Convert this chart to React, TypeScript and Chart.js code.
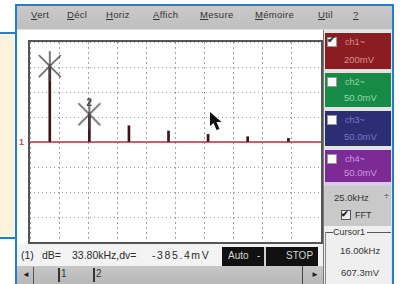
import React, { useEffect, useRef } from 'react';
import { Chart, registerables } from 'chart.js';

Chart.register(...registerables);

// ---- data ----
const harmonicFreqKHz = [17, 51, 85, 119, 153, 187, 222];
const harmonicAmpMV = [607, 222, 130, 88, 61, 42, 29];
const cursorFreqKHz = [17, 51];
const cursorAmpMV = [607.3, 221.9];
const cursorLabels = ['', '2'];
const freqSpanKHz = [0, 250];
const freqPerDivKHz = 25;
const voltSpanMV = [-800, 800];
const mvPerDiv = 200;

const menuLabels = ['Vert', 'Décl', 'Horiz', 'Affich', 'Mesure', 'Mémoire', 'Util', '?'];
const channelNames = ['ch1~', 'ch2~', 'ch3~', 'ch4~'];
const channelScales = ['200mV', '50.0mV', '50.0mV', '50.0mV'];
const statusParts = ['(1)', 'dB=', '33.80kHz,dv=', '-385.4mV'];
const spanLabel = '25.0kHz';
const cursorTitle = 'Cursor1';
const cursorReadout = ['16.00kHz', '607.3mV'];

// ---- layout (styling only) ----
const menuLeft = [31, 67, 106, 153, 200, 255, 318, 353];
const statusLeft = [21, 42, 72, 152];
const statusSpacing = [0, 0, 0, 1.6];
const chBoxes = [
  { top: 33, h: 36, bg: '#8b1c22', fg: '#dc9090' },
  { top: 73, h: 34, bg: '#188a48', fg: '#8fdcaa' },
  { top: 111, h: 35, bg: '#2c2e74', fg: '#7878c8' },
  { top: 150, h: 32, bg: '#7c2a94', fg: '#cf98e4' },
];
const BLUE = '#1f7fd4';
const FONT = '"Liberation Sans", Arial, sans-serif';

const abs = (l: number, t: number, w?: number, h?: number, extra: any = {}) => ({
  position: 'absolute' as const, left: l, top: t, width: w, height: h, ...extra,
});

export default function App() {
  const ref = useRef<HTMLCanvasElement>(null);

  useEffect(() => {
    const mk = document.createElement('canvas');
    mk.width = 26;
    mk.height = 32;
    const g = mk.getContext('2d')!;
    g.strokeStyle = '#4c4c4c';
    g.lineWidth = 1.5;
    g.beginPath();
    g.moveTo(13, 1); g.lineTo(13, 31);
    g.moveTo(2, 5); g.lineTo(24, 27);
    g.moveTo(24, 5); g.lineTo(2, 27);
    g.stroke();

    const labelPlugin = {
      id: 'cursorLabels',
      afterDatasetsDraw(chart: any) {
        const meta = chart.getDatasetMeta(2);
        const ctx = chart.ctx;
        ctx.save();
        ctx.font = 'bold 10px ' + FONT;
        ctx.fillStyle = '#444';
        ctx.textAlign = 'center';
        ctx.textBaseline = 'middle';
        meta.data.forEach((p: any, i: number) => {
          if (cursorLabels[i]) ctx.fillText(cursorLabels[i], p.x, p.y - 11);
        });
        ctx.restore();
      },
    };

    const chart = new Chart(ref.current!, {
      type: 'scatter',
      data: {
        datasets: [
          {
            type: 'line',
            data: freqSpanKHz.map((x) => ({ x, y: 0 })),
            borderColor: '#b23545',
            borderWidth: 1.6,
            pointRadius: 0,
            order: 3,
          } as any,
          {
            type: 'bar',
            data: harmonicFreqKHz.map((x, i) => ({ x, y: harmonicAmpMV[i] })),
            backgroundColor: '#3e1216',
            barThickness: 2,
            order: 2,
          } as any,
          {
            type: 'scatter',
            data: cursorFreqKHz.map((x, i) => ({ x, y: cursorAmpMV[i] })),
            pointStyle: mk,
            pointRadius: 12,
            order: 1,
          } as any,
        ],
      },
      options: {
        animation: false,
        responsive: false,
        maintainAspectRatio: false,
        events: [],
        layout: { padding: 0, autoPadding: false },
        plugins: { legend: { display: false }, tooltip: { enabled: false } },
        scales: {
          x: {
            type: 'linear',
            min: freqSpanKHz[0],
            max: freqSpanKHz[1],
            offset: false,
            ticks: { display: false, stepSize: freqPerDivKHz },
            grid: { color: '#a0a0a0', drawTicks: false, offset: false, lineWidth: 1 },
            border: { display: false, dash: [2, 3] },
          },
          y: {
            type: 'linear',
            min: voltSpanMV[0],
            max: voltSpanMV[1],
            ticks: { display: false, stepSize: mvPerDiv },
            grid: { color: '#a0a0a0', drawTicks: false, lineWidth: 1 },
            border: { display: false, dash: [1, 3] },
          },
        },
      } as any,
      plugins: [labelPlugin],
    });
    return () => chart.destroy();
  }, []);

  const txt = (extra: any = {}) => ({ fontFamily: FONT, fontSize: 10, color: '#2c2c2c', whiteSpace: 'nowrap', lineHeight: '12px', ...extra });

  return (
    <div style={{ position: 'fixed', left: 0, top: 0, width: 400, height: 284, overflow: 'hidden', background: '#fff', filter: 'blur(0.35px)' }}>
      {/* left cream panel */}
      <div style={abs(0, 32, 17, 207, { background: '#fdf3dc', borderTop: `2px solid ${BLUE}`, borderBottom: `2px solid ${BLUE}`, boxSizing: 'border-box' })} />

      {/* menu bar */}
      <div style={abs(17, 6, 375, 23, { background: 'linear-gradient(#c9c9c9, #bfbfbf)' })} />
      {menuLabels.map((m, i) => (
        <div key={m} style={abs(menuLeft[i], 9, undefined, 14, txt({ fontSize: 9.5, color: '#333', letterSpacing: 0.3 }))}>
          <u>{m.slice(0, 1)}</u>{m.slice(1)}
        </div>
      ))}
      <div style={abs(17, 29, 375, 1, { background: '#e0e0e0' })} />

      {/* plot frame + chart */}
      <div style={abs(28, 40, 295, 204, { border: '2px solid #555', boxSizing: 'border-box', background: '#fff' })}>
        <canvas ref={ref} width={291} height={200} style={{ display: 'block', width: 291, height: 200 }} />
      </div>
      {/* channel 1 ground marker */}
      <div style={abs(19, 137, 7, 10, txt({ fontSize: 9, fontWeight: 'bold', color: '#d0485a', lineHeight: '10px' }))}>1</div>

      {/* mouse pointer */}
      <svg style={abs(209, 111)} width="16" height="22">
        <polygon points="1,1 1,15 4.5,12 7.5,19 10.5,18 7.5,11 12.5,11" fill="#111" />
      </svg>

      {/* right panel */}
      <div style={abs(323, 30, 69, 254, { background: '#e4e4e4', borderLeft: '1px solid #777', boxSizing: 'border-box' })} />
      {chBoxes.map((b, i) => (
        <React.Fragment key={i}>
          <div style={abs(325, b.top, 66, b.h, { background: b.bg })} />
          <div style={abs(327, b.top + 4, 10, 10, { background: '#fafafa', border: '1px solid #999', boxSizing: 'border-box' })} />
          {i === 0 && <div style={abs(327, b.top + 1, 11, 12, txt({ fontSize: 10, fontWeight: 'bold', color: '#333' }))}>✔</div>}
          <div style={abs(345, b.top + 3, undefined, 12, txt({ fontSize: 9, color: b.fg }))}>{channelNames[i]}</div>
          <div style={abs(344, b.top + b.h - 15, undefined, 12, txt({ fontSize: 9.5, color: b.fg }))}>{channelScales[i]}</div>
        </React.Fragment>
      ))}
      <div style={abs(325, 182, 66, 4, { background: '#d9cbe6' })} />
      <div style={abs(324, 186, 67, 40, { background: '#c9c9c9' })} />
      <div style={abs(334, 192, undefined, 12, txt({ fontSize: 9.5, color: '#333' }))}>{spanLabel}</div>
      <div style={abs(384, 190, 6, 14, txt({ fontSize: 9, color: '#333' }))}>÷</div>
      <div style={abs(341, 210, 10, 10, { border: '1px solid #555', background: '#eee', boxSizing: 'border-box' })} />
      <div style={abs(341, 208, 11, 12, txt({ fontSize: 9, fontWeight: 'bold', color: '#222' }))}>✔</div>
      <div style={abs(355, 209, undefined, 12, txt({ fontSize: 9, color: '#333' }))}>FFT</div>
      <div style={abs(324, 226, 67, 58, { background: '#efefef' })} />
      <div style={abs(325, 232, 8, 1, { background: '#555' })} />
      <div style={abs(367, 232, 24, 1, { background: '#555' })} />
      <div style={abs(325, 232, 1, 52, { background: '#888' })} />
      <div style={abs(333, 226, undefined, 12, txt({ fontSize: 9, color: '#333' }))}>{cursorTitle}</div>
      <div style={abs(340, 245, undefined, 12, txt({ fontSize: 9.5, color: '#333' }))}>{cursorReadout[0]}</div>
      <div style={abs(341, 267, undefined, 12, txt({ fontSize: 9.5, color: '#333' }))}>{cursorReadout[1]}</div>

      {/* bottom status line */}
      <div style={abs(17, 244, 306, 22, { background: '#f3f3f3' })} />
      {statusParts.map((s, i) => (
        <div key={i} style={abs(statusLeft[i], 249, undefined, 12, txt({ fontSize: 10.5, color: '#2a2a2a', letterSpacing: statusSpacing[i] }))}>{s}</div>
      ))}
      <div style={abs(222, 247, 96, 19, { background: '#111' })} />
      <div style={abs(228, 250, undefined, 12, txt({ fontSize: 10, color: '#d8d8d8' }))}>Auto</div>
      <div style={abs(257, 250, undefined, 12, txt({ fontSize: 10, color: '#d8d8d8' }))}>-</div>
      <div style={abs(264, 247, 2, 19, { background: '#cfcfcf' })} />
      <div style={abs(286, 250, undefined, 12, txt({ fontSize: 10, color: '#d8d8d8' }))}>STOP</div>

      {/* scrollbar */}
      <div style={abs(17, 266, 306, 18, { background: 'linear-gradient(#c6c6c6, #b8b8b8)' })} />
      <div style={abs(22, 269, 8, 12, txt({ fontSize: 8, color: '#222' }))}>◄</div>
      <div style={abs(33, 267, 1, 17, { background: '#555' })} />
      <div style={abs(58, 268, 2, 14, { background: '#333' })} />
      <div style={abs(61, 268, undefined, 12, txt({ fontSize: 10, color: '#333' }))}>1</div>
      <div style={abs(93, 268, 2, 14, { background: '#333' })} />
      <div style={abs(96, 268, undefined, 12, txt({ fontSize: 10, color: '#333' }))}>2</div>
      <div style={abs(302, 266, 1, 18, { background: '#444' })} />
      <div style={abs(311, 269, 8, 12, txt({ fontSize: 8, color: '#222' }))}>►</div>

      {/* blue screenshot frame */}
      <div style={abs(15, 4, 379, 300, { border: `2px solid ${BLUE}`, boxSizing: 'border-box', pointerEvents: 'none' })} />
    </div>
  );
}
